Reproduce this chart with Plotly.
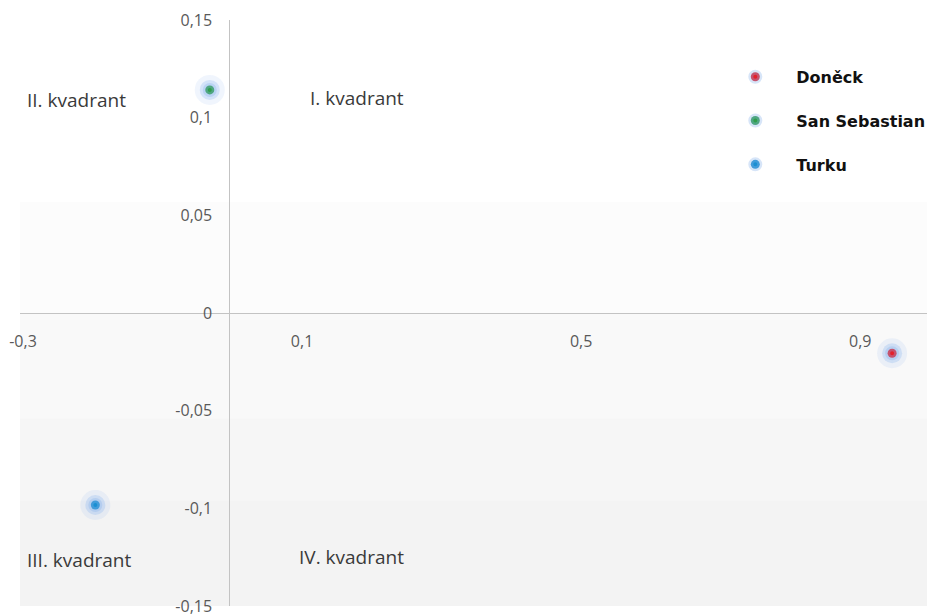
import plotly.graph_objects as go

# ---- data ----
city_names = ["Doněck", "San Sebastian", "Turku"]
x_values = [0.950, -0.028, -0.192]
y_values = [-0.0206, 0.1142, -0.0983]
city_colors = ["#e3202b", "#2f9e4b", "#1b8fd2"]

x_tick_vals = [-0.3, 0.1, 0.5, 0.9]
x_tick_text = ["-0,3", "0,1", "0,5", "0,9"]
y_tick_vals = [-0.15, -0.1, -0.05, 0, 0.05, 0.1, 0.15]
y_tick_text = ["-0,15", "-0,1", "-0,05", "0", "0,05", "0,1", "0,15"]

quadrant_labels = ["I. kvadrant", "II. kvadrant", "III. kvadrant", "IV. kvadrant"]
quadrant_x = [0.113, -0.293, -0.293, 0.097]
quadrant_y = [0.110, 0.109, -0.1265, -0.125]

x_range = [-0.3, 1.0]
y_range = [-0.15, 0.15]

fig = go.Figure()

# glow halos
for name, xv, yv in zip(city_names, x_values, y_values):
    fig.add_trace(go.Scatter(x=[xv], y=[yv], mode="markers", showlegend=False, hoverinfo="skip",
                             marker=dict(size=30, color="rgba(120,165,235,0.11)", line=dict(width=0))))
    fig.add_trace(go.Scatter(x=[xv], y=[yv], mode="markers", showlegend=False, hoverinfo="skip",
                             marker=dict(size=20, color="rgba(110,165,235,0.22)", line=dict(width=0))))

for i, (name, xv, yv, c) in enumerate(zip(city_names, x_values, y_values, city_colors)):
    fig.add_trace(go.Scatter(x=[xv], y=[yv], mode="markers", name=name, legendgroup=name,
                             marker=dict(size=9, color=c, line=dict(width=5, color="rgba(140,180,235,0.35)"))))

# background shading (decorative)
shapes = []
steps = [(0.0, 0.18, "rgba(0,0,0,0.012)"), (0.0, 0.32, "rgba(0,0,0,0.012)"),
         (0.0, 0.5, "rgba(0,0,0,0.012)"), (0.0, 0.69, "rgba(0,0,0,0.012)")]
for y0, y1, col in steps:
    shapes.append(dict(type="rect", xref="paper", yref="paper", x0=0, x1=1, y0=y0, y1=y1,
                       fillcolor=col, line=dict(width=0), layer="below"))

for txt, qx, qy in zip(quadrant_labels, quadrant_x, quadrant_y):
    fig.add_annotation(x=qx, y=qy, text=txt, showarrow=False, xanchor="left", yanchor="middle",
                       font=dict(family="Open Sans", size=19, color="#3a3a3a"))

fig.update_layout(
    width=927, height=608,
    margin=dict(l=12, r=8, t=12, b=10, autoexpand=False),
    paper_bgcolor="white", plot_bgcolor="white",
    shapes=shapes,
    font=dict(family="Open Sans", size=16, color="#595959"),
    legend=dict(x=0.7655, y=0.932, xanchor="left", yanchor="top",
                bgcolor="white", borderwidth=0, tracegroupgap=20, itemwidth=72,
                font=dict(family="DejaVu Sans", size=16, color="#111111", weight="bold")),
    showlegend=True,
)
fig.update_xaxes(range=x_range, tickvals=x_tick_vals, ticktext=x_tick_text, automargin=False,
                 anchor="free", position=0.5, showline=True, linecolor="#c3c3c3", linewidth=1,
                 showgrid=False, zeroline=False, ticks="", ticklabelstandoff=14,
                 ticklabelshift=3, ticklabeloverflow="allow",
                 tickfont=dict(family="Open Sans", size=16, color="#595959"))
fig.update_yaxes(range=y_range, tickvals=y_tick_vals, ticktext=y_tick_text, automargin=False,
                 anchor="free", position=0.3 / 1.3, showline=True, linecolor="#c3c3c3", linewidth=1,
                 showgrid=False, zeroline=False, ticks="", ticklabelstandoff=14,
                 ticklabeloverflow="allow",
                 tickfont=dict(family="Open Sans", size=16, color="#595959"))

fig.write_html("out.html")
